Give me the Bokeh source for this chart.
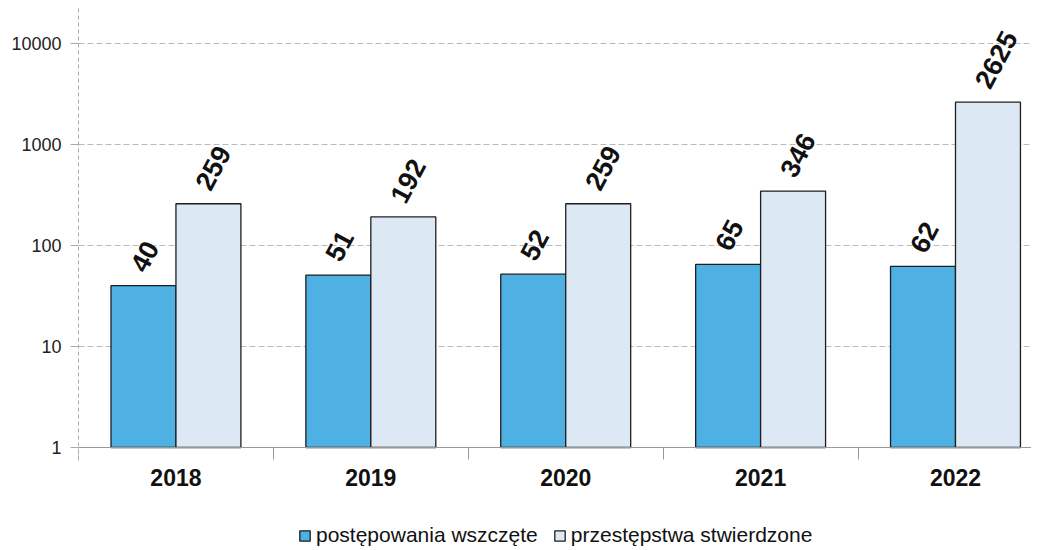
import numpy as np
from bokeh.plotting import figure
from bokeh.models import (ColumnDataSource, Range1d, FixedTicker, NumeralTickFormatter,
                          Legend, LegendItem)
from bokeh.core.properties import value
from bokeh.embed import file_html
from bokeh.resources import INLINE

# ---- data ----
years = ["2018", "2019", "2020", "2021", "2022"]
wszczete = [40, 51, 52, 65, 62]
stwierdzone = [259, 192, 259, 346, 2625]
series_names = ["postępowania wszczęte", "przestępstwa stwierdzone"]
y_ticks = [1, 10, 100, 1000, 10000]

FONT = "Liberation Sans"
BLUE = "#4EB0E3"
LIGHT = "#DCE9F4"
EDGE = "#1e1e1e"

idx = np.arange(len(years))
bw = 1 / 3
src = ColumnDataSource(dict(
    x1=idx + 0.5 - bw / 2,
    x2=idx + 0.5 + bw / 2,
    a=wszczete,
    b=stwierdzone,
    la=[str(v) for v in wszczete],
    lb=[str(v) for v in stwierdzone],
    ya=np.array(wszczete, dtype=float) * 1.44,
    yb=np.array(stwierdzone, dtype=float) * 1.44,
))

p = figure(width=1031, height=548,
           x_range=Range1d(0, 4.89), y_range=Range1d(0.1, 22200),
           y_axis_type="log", output_backend="svg", toolbar_location=None,
           min_border_left=78, min_border_right=0, min_border_top=8,
           min_border_bottom=0, background_fill_color="white")
p.outline_line_color = None

r1 = p.vbar(x="x1", top="a", bottom=1, width=bw, source=src,
            fill_color=BLUE, line_color=EDGE, line_width=1.3)
r2 = p.vbar(x="x2", top="b", bottom=1, width=bw, source=src,
            fill_color=LIGHT, line_color=EDGE, line_width=1.3)

text_kw = dict(angle=np.deg2rad(62), text_align="left", text_baseline="middle",
               text_font=value(FONT), text_font_style="bold", text_font_size="27px",
               text_color="#111111", x_offset=-6, source=src)
p.text(x="x1", y="ya", text="la", **text_kw)
p.text(x="x2", y="yb", text="lb", **text_kw)

# y axis
p.yaxis.ticker = FixedTicker(ticks=y_ticks)
p.yaxis.formatter = NumeralTickFormatter(format="0")
p.yaxis.bounds = (0.74, 22200)
p.yaxis.axis_line_color = "#aaaaaa"
p.yaxis.axis_line_dash = "4 3"
p.yaxis.major_tick_line_color = "#aaaaaa"
p.yaxis.major_tick_out = 8
p.yaxis.major_tick_in = 0
p.yaxis.minor_tick_line_color = None
p.yaxis.major_label_text_font = FONT
p.yaxis.major_label_text_font_size = "18px"
p.yaxis.major_label_text_color = "#222222"
p.yaxis.major_label_standoff = 9

# x axis (drawn at y = 1 inside the frame)
centers = [i + 0.5 for i in range(len(years))]
bounds = [float(i) for i in range(len(years) + 1)]
p.xaxis.fixed_location = 1
p.xaxis.ticker = FixedTicker(ticks=centers, minor_ticks=bounds)
p.xaxis.major_label_overrides = {c: y for c, y in zip(centers, years)}
p.xaxis.axis_line_color = "#999999"
p.xaxis.major_tick_line_color = None
p.xaxis.major_tick_out = 0
p.xaxis.major_tick_in = 0
p.xaxis.minor_tick_line_color = "#999999"
p.xaxis.minor_tick_out = 12
p.xaxis.minor_tick_in = 0
p.xaxis.major_label_text_font = FONT
p.xaxis.major_label_text_font_style = "bold"
p.xaxis.major_label_text_font_size = "23px"
p.xaxis.major_label_text_color = "#111111"
p.xaxis.major_label_standoff = 10

# grid
p.xgrid.visible = False
p.ygrid.ticker = FixedTicker(ticks=y_ticks)
p.ygrid.grid_line_color = "#bbbbbb"
p.ygrid.grid_line_dash = "6 3"

legend = Legend(items=[LegendItem(label=series_names[0], renderers=[r1]),
                       LegendItem(label=series_names[1], renderers=[r2])],
                orientation="horizontal", location=(220, 1))
legend.border_line_alpha = 0
legend.background_fill_alpha = 0
legend.label_text_font = FONT
legend.label_text_font_size = "21px"
legend.label_text_color = "#111111"
legend.glyph_width = 13
legend.glyph_height = 13
legend.spacing = 15
legend.padding = 0
legend.margin = 0
legend.label_standoff = 5
p.add_layout(legend)

open("out.html", "w").write(file_html(p, INLINE))
